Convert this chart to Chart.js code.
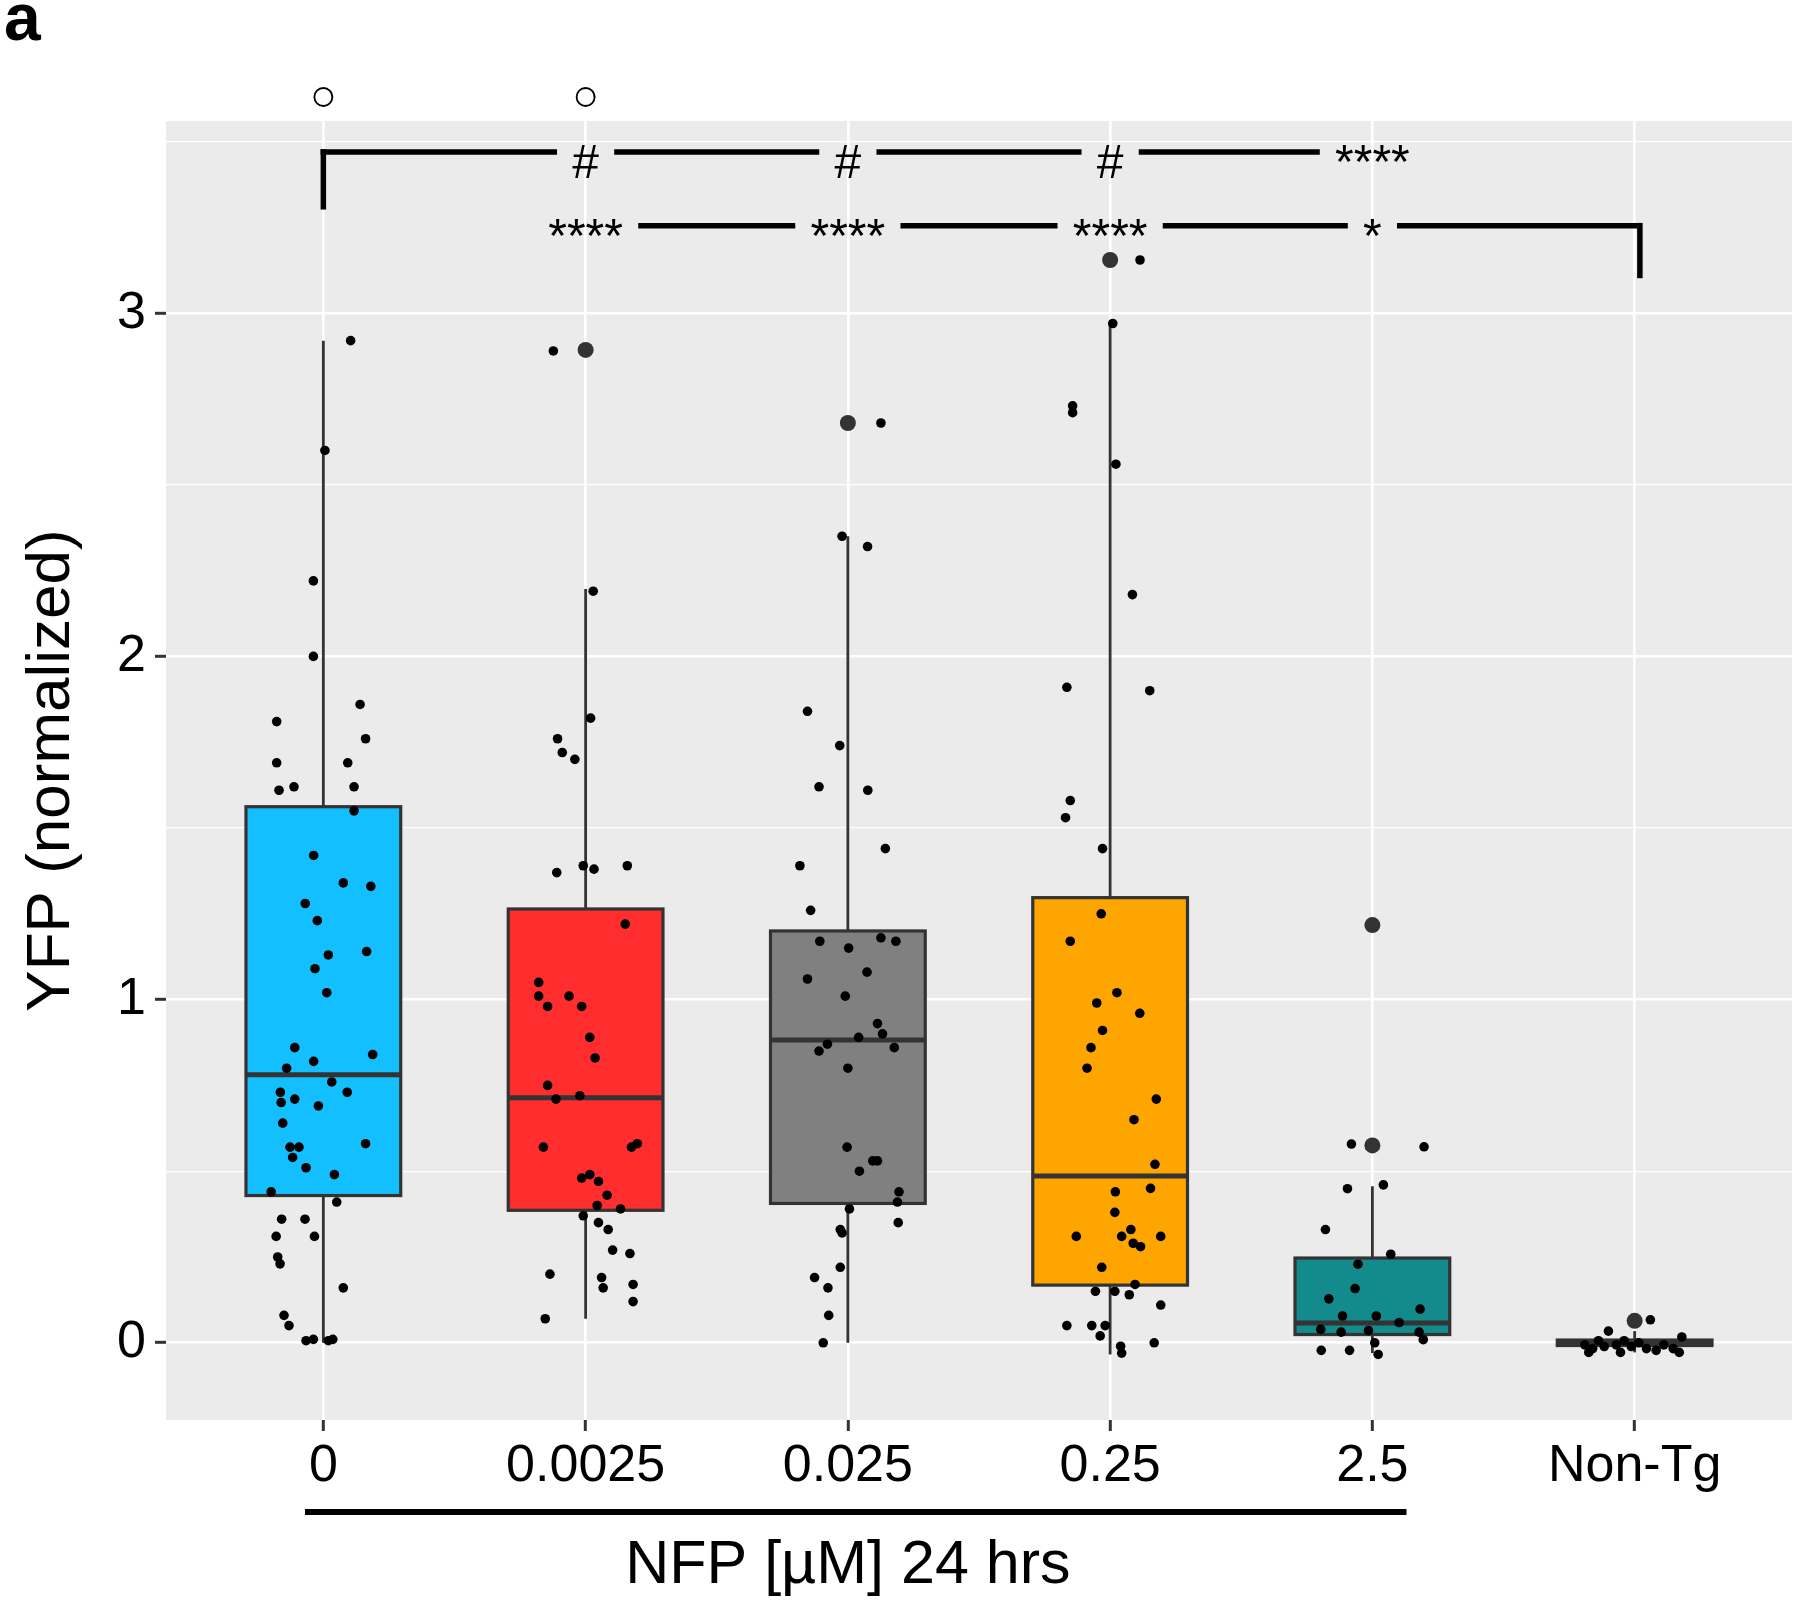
<!DOCTYPE html>
<html lang="en">
<head>
  <meta charset="UTF-8">
  <title>YFP (normalized) vs NFP dose</title>
  <script src="https://cdn.jsdelivr.net/npm/chart.js"></script>
  <style>
    body { margin: 0; background: #fff; }
    canvas { display: block; }
  </style>
</head>
<body>
  <canvas id="yfpChart" width="1800" height="1600"></canvas>

  <script>
    // categories on the x axis
    const categories = ['0', '0.0025', '0.025', '0.25', '2.5', 'Non-Tg'];
    const yTicks = [0, 0.5, 1, 1.5, 2, 2.5, 3, 3.5];

    // box statistics
    const q1 = [0.429, 0.386, 0.406, 0.168, 0.024, -0.008];
    const medians = [0.781, 0.714, 0.882, 0.486, 0.058, 0.0];
    const q3 = [1.562, 1.264, 1.200, 1.297, 0.247, 0.008];
    const whiskerLow = [0.0, 0.07, 0.0, -0.034, -0.03, -0.028];
    const whiskerHigh = [2.92, 2.196, 2.35, 2.97, 0.456, 0.034];
    const outliers = [[], [2.893], [2.68], [3.155], [1.217, 0.575], [0.064]];

    // jittered observations (value + horizontal jitter in category units)
    const values0 = [2.92, 2.60, 2.22, 2.00, 1.86, 1.81, 1.76, 1.69, 1.69, 1.61, 1.62, 1.62, 1.55, 1.42, 1.34, 1.33, 1.28, 1.23, 1.14, 1.13, 1.09, 1.02, 0.86, 0.84, 0.82, 0.80, 0.76, 0.73, 0.73, 0.70, 0.71, 0.69, 0.64, 0.58, 0.57, 0.57, 0.54, 0.51, 0.49, 0.44, 0.41, 0.36, 0.36, 0.31, 0.31, 0.25, 0.23, 0.16, 0.08, 0.05, 0.006, 0.01, 0.006, 0.01];
    const jitter0 = [0.104, 0.006, -0.038, -0.038, 0.14, -0.178, 0.161, -0.178, 0.093, -0.169, -0.112, 0.117, 0.117, -0.037, 0.076, 0.181, -0.069, -0.023, 0.165, 0.019, -0.032, 0.013, -0.109, 0.188, -0.037, -0.14, 0.032, 0.091, -0.164, -0.161, -0.109, -0.019, -0.155, 0.161, -0.127, -0.093, -0.117, -0.066, 0.042, -0.199, 0.051, -0.159, -0.07, -0.18, -0.034, -0.174, -0.165, 0.076, -0.15, -0.131, -0.066, -0.038, 0.019, 0.036];

    const values1 = [2.89, 2.19, 1.82, 1.76, 1.72, 1.70, 1.37, 1.39, 1.38, 1.39, 1.22, 1.05, 1.01, 0.98, 1.01, 0.98, 0.89, 0.83, 0.75, 0.71, 0.72, 0.57, 0.57, 0.58, 0.48, 0.49, 0.47, 0.43, 0.39, 0.37, 0.40, 0.35, 0.33, 0.27, 0.26, 0.20, 0.19, 0.16, 0.17, 0.12, 0.07];
    const jitter1 = [-0.123, 0.029, 0.019, -0.107, -0.089, -0.041, -0.11, -0.009, 0.032, 0.159, 0.151, -0.179, -0.179, -0.145, -0.063, -0.015, 0.016, 0.036, -0.145, -0.113, -0.022, -0.161, 0.175, 0.197, -0.015, 0.016, 0.049, 0.082, 0.133, -0.009, 0.044, 0.049, 0.086, 0.103, 0.169, -0.136, 0.061, 0.067, 0.181, 0.181, -0.154];

    const values2 = [2.68, 2.35, 2.32, 1.84, 1.74, 1.62, 1.61, 1.44, 1.39, 1.26, 1.17, 1.15, 1.18, 1.17, 1.06, 1.08, 1.01, 0.93, 0.89, 0.90, 0.87, 0.85, 0.86, 0.80, 0.57, 0.53, 0.53, 0.50, 0.44, 0.41, 0.39, 0.35, 0.33, 0.32, 0.22, 0.19, 0.16, 0.08, 0.00];
    const jitter2 = [0.126, -0.022, 0.075, -0.154, -0.031, -0.11, 0.076, 0.143, -0.183, -0.142, -0.107, 0.003, 0.126, 0.183, -0.154, 0.073, -0.01, 0.113, 0.041, 0.132, -0.078, -0.11, 0.177, 0, -0.003, 0.095, 0.113, 0.044, 0.195, 0.189, 0.006, 0.192, -0.029, -0.022, -0.029, -0.127, -0.076, -0.073, -0.094];

    const values3 = [3.155, 2.97, 2.73, 2.71, 2.56, 2.18, 1.91, 1.90, 1.58, 1.53, 1.44, 1.25, 1.17, 1.02, 0.99, 0.96, 0.91, 0.86, 0.80, 0.71, 0.65, 0.52, 0.45, 0.44, 0.38, 0.31, 0.31, 0.33, 0.29, 0.28, 0.31, 0.22, 0.15, 0.15, 0.14, 0.17, 0.11, 0.05, 0.05, 0.05, 0.02, -0.01, -0.03, 0.0];
    const jitter3 = [0.114, 0.01, -0.143, -0.143, 0.022, 0.085, -0.165, 0.151, -0.152, -0.17, -0.029, -0.034, -0.152, 0.026, -0.051, 0.113, -0.029, -0.073, -0.088, 0.176, 0.091, 0.171, 0.154, 0.02, 0.018, -0.129, 0.044, 0.079, 0.088, 0.116, 0.193, -0.032, -0.056, 0.018, 0.073, 0.095, 0.193, -0.165, -0.07, -0.019, -0.038, 0.04, 0.044, 0.168];

    const values4 = [0.579, 0.571, 0.449, 0.46, 0.33, 0.258, 0.229, 0.158, 0.128, 0.098, 0.078, 0.078, 0.059, 0.039, 0.031, 0.036, 0.031, 0.009, 0.0, -0.022, -0.022, -0.034];
    const jitter4 = [-0.08, 0.197, -0.095, 0.042, -0.179, 0.07, -0.055, -0.066, -0.166, 0.182, -0.114, 0.015, 0.102, -0.197, -0.119, -0.015, 0.178, 0.194, 0.009, -0.195, -0.087, 0.022];

    const values5 = [0.067, 0.034, 0.017, -0.006, -0.017, -0.011, -0.006, 0.006, -0.011, 0.0, -0.017, -0.022, -0.006, -0.017, -0.028, 0.006, -0.028, -0.028];
    const jitter5 = [0.06, -0.1, 0.18, -0.19, -0.16, -0.116, -0.07, -0.04, -0.013, 0.016, 0.045, 0.082, 0.111, 0.147, 0.17, -0.138, -0.054, -0.175];

    // significance annotations per category
    const sigRow1 = ['', '#', '#', '#', '****', ''];
    const sigRow2 = ['', '****', '****', '****', '*', ''];
    const openMarks = [true, true, false, false, false, false];

    const boxColors = ['#14BFFF', '#FF2D2D', '#808080', '#FFA500', '#138A8C', '#6E6E6E'];
    const FONT = '"Liberation Sans", Arial, sans-serif';

    const allValues = [values0, values1, values2, values3, values4, values5];
    const allJitter = [jitter0, jitter1, jitter2, jitter3, jitter4, jitter5];

    const jitterPoints = allValues.flatMap((vals, i) =>
      vals.map((v, k) => ({ x: i + 1 + allJitter[i][k], y: v })));
    const outlierPoints = outliers.flatMap((vals, i) => vals.map(v => ({ x: i + 1, y: v })));

    function hline(ctx, x1, x2, y) {
      ctx.beginPath(); ctx.moveTo(x1, y); ctx.lineTo(x2, y); ctx.stroke();
    }
    function vline(ctx, x, y1, y2) {
      ctx.beginPath(); ctx.moveTo(x, y1); ctx.lineTo(x, y2); ctx.stroke();
    }

    // draws one row of bracket line with labels cut into it
    function sigRow(chart, labels, rowVal, from, to, dropAt, dropVal) {
      const { ctx, scales: { x, y } } = chart;
      const yPix = y.getPixelForValue(rowVal);
      ctx.font = '48px ' + FONT;
      ctx.textAlign = 'center';
      ctx.textBaseline = 'alphabetic';
      ctx.fillStyle = '#000';
      const gaps = [];
      labels.forEach((lab, i) => {
        if (!lab) return;
        const cx = x.getPixelForValue(i + 1);
        const w = ctx.measureText(lab).width;
        gaps.push([cx - w / 2 - 18, cx + w / 2 + 18]);
        ctx.fillText(lab, cx, yPix + 26);
      });
      let segs = [[x.getPixelForValue(from), x.getPixelForValue(to)]];
      gaps.forEach(g => {
        segs = segs.flatMap(([a, b]) => {
          if (g[1] <= a || g[0] >= b) return [[a, b]];
          const out = [];
          if (g[0] > a) out.push([a, g[0]]);
          if (g[1] < b) out.push([g[1], b]);
          return out;
        });
      });
      ctx.strokeStyle = '#000';
      ctx.lineWidth = 5.5;
      ctx.lineCap = 'square';
      segs.forEach(([a, b]) => hline(ctx, a, b, yPix));
      vline(ctx, x.getPixelForValue(dropAt), yPix, y.getPixelForValue(dropVal));
    }

    const boxPlugin = {
      id: 'boxes',
      beforeDraw(chart) {
        const { ctx, chartArea: a } = chart;
        ctx.save();
        ctx.fillStyle = '#fff';
        ctx.fillRect(0, 0, chart.width, chart.height);
        ctx.fillStyle = '#EBEBEB';
        ctx.fillRect(a.left, a.top, a.right - a.left, a.bottom - a.top);
        ctx.restore();
      },
      beforeDatasetsDraw(chart) {
        const { ctx, scales: { x, y } } = chart;
        ctx.save();
        categories.forEach((c, i) => {
          const cx = x.getPixelForValue(i + 1);
          const left = x.getPixelForValue(i + 1 - 0.295);
          const right = x.getPixelForValue(i + 1 + 0.295);
          const top = y.getPixelForValue(q3[i]);
          const bottom = y.getPixelForValue(q1[i]);
          ctx.strokeStyle = '#333';
          ctx.lineWidth = 2.8;
          vline(ctx, cx, top, y.getPixelForValue(whiskerHigh[i]));
          vline(ctx, cx, bottom, y.getPixelForValue(whiskerLow[i]));
          ctx.fillStyle = boxColors[i];
          ctx.fillRect(left, top, right - left, bottom - top);
          ctx.lineWidth = 3.2;
          ctx.strokeRect(left, top, right - left, bottom - top);
          ctx.lineWidth = 5;
          hline(ctx, left, right, y.getPixelForValue(medians[i]));
        });
        ctx.restore();
      },
      afterDraw(chart) {
        const { ctx, chartArea: a, scales: { x, y } } = chart;
        ctx.save();
        sigRow(chart, sigRow1, 3.47, 1, 5, 1, 3.31);
        sigRow(chart, sigRow2, 3.255, 2, 6, 6.02, 3.11);

        // open circles above the panel
        ctx.strokeStyle = '#000';
        ctx.fillStyle = '#fff';
        ctx.lineWidth = 1.8;
        openMarks.forEach((m, i) => {
          if (!m) return;
          ctx.beginPath();
          ctx.arc(x.getPixelForValue(i + 1), y.getPixelForValue(3.63), 9, 0, Math.PI * 2);
          ctx.fill();
          ctx.stroke();
        });

        // bar under the dose labels and the axis title
        ctx.lineWidth = 6;
        ctx.lineCap = 'butt';
        hline(ctx, x.getPixelForValue(0.93), x.getPixelForValue(5.13), a.bottom + 92);
        ctx.fillStyle = '#000';
        ctx.font = '61px ' + FONT;
        ctx.textAlign = 'center';
        ctx.textBaseline = 'alphabetic';
        ctx.fillText('NFP [µM] 24 hrs', x.getPixelForValue(3), a.bottom + 163);

        // panel letter
        ctx.font = 'bold 66px ' + FONT;
        ctx.textAlign = 'left';
        ctx.fillText('a', 4, 40);
        ctx.restore();
      }
    };

    new Chart(document.getElementById('yfpChart'), {
      type: 'scatter',
      data: {
        datasets: [
          {
            label: 'observations',
            data: jitterPoints,
            pointRadius: 4.8,
            pointBackgroundColor: '#000',
            pointBorderWidth: 0
          },
          {
            label: 'outliers',
            data: outlierPoints,
            pointRadius: 8,
            pointBackgroundColor: '#333',
            pointBorderWidth: 0
          }
        ]
      },
      options: {
        responsive: false,
        animation: false,
        layout: { padding: { top: 121, right: 3, left: 0, bottom: 0 } },
        plugins: {
          legend: { display: false },
          tooltip: { enabled: false }
        },
        scales: {
          x: {
            type: 'linear',
            min: 0.4,
            max: 6.6,
            afterBuildTicks(axis) {
              axis.ticks = categories.map((c, i) => ({ value: i + 1 }));
            },
            afterFit(axis) { axis.height = 180; },
            ticks: {
              callback: v => categories[Math.round(v) - 1],
              font: { size: 52, family: FONT },
              color: '#000',
              padding: 4,
              maxRotation: 0,
              autoSkip: false
            },
            grid: {
              color: '#fff',
              lineWidth: 2.6,
              tickLength: 11,
              tickColor: '#333',
              tickWidth: 3
            },
            border: { display: false }
          },
          y: {
            min: -0.225,
            max: 3.56,
            afterBuildTicks(axis) {
              axis.ticks = yTicks.map(v => ({ value: v }));
            },
            afterFit(axis) { axis.width = 166; },
            ticks: {
              callback: v => Number.isInteger(v) ? String(v) : '',
              font: { size: 52, family: FONT },
              color: '#000',
              padding: 9
            },
            grid: {
              color: '#fff',
              lineWidth: c => Number.isInteger(c.tick.value) ? 2.6 : 1.3,
              tickLength: 11,
              tickColor: c => Number.isInteger(c.tick.value) ? '#333' : 'rgba(0,0,0,0)',
              tickWidth: 3
            },
            border: { display: false },
            title: {
              display: true,
              text: 'YFP (normalized)',
              font: { size: 62, family: FONT },
              color: '#000',
              padding: { top: 15, bottom: 0 }
            }
          }
        }
      },
      plugins: [boxPlugin]
    });
  </script>
</body>
</html>
